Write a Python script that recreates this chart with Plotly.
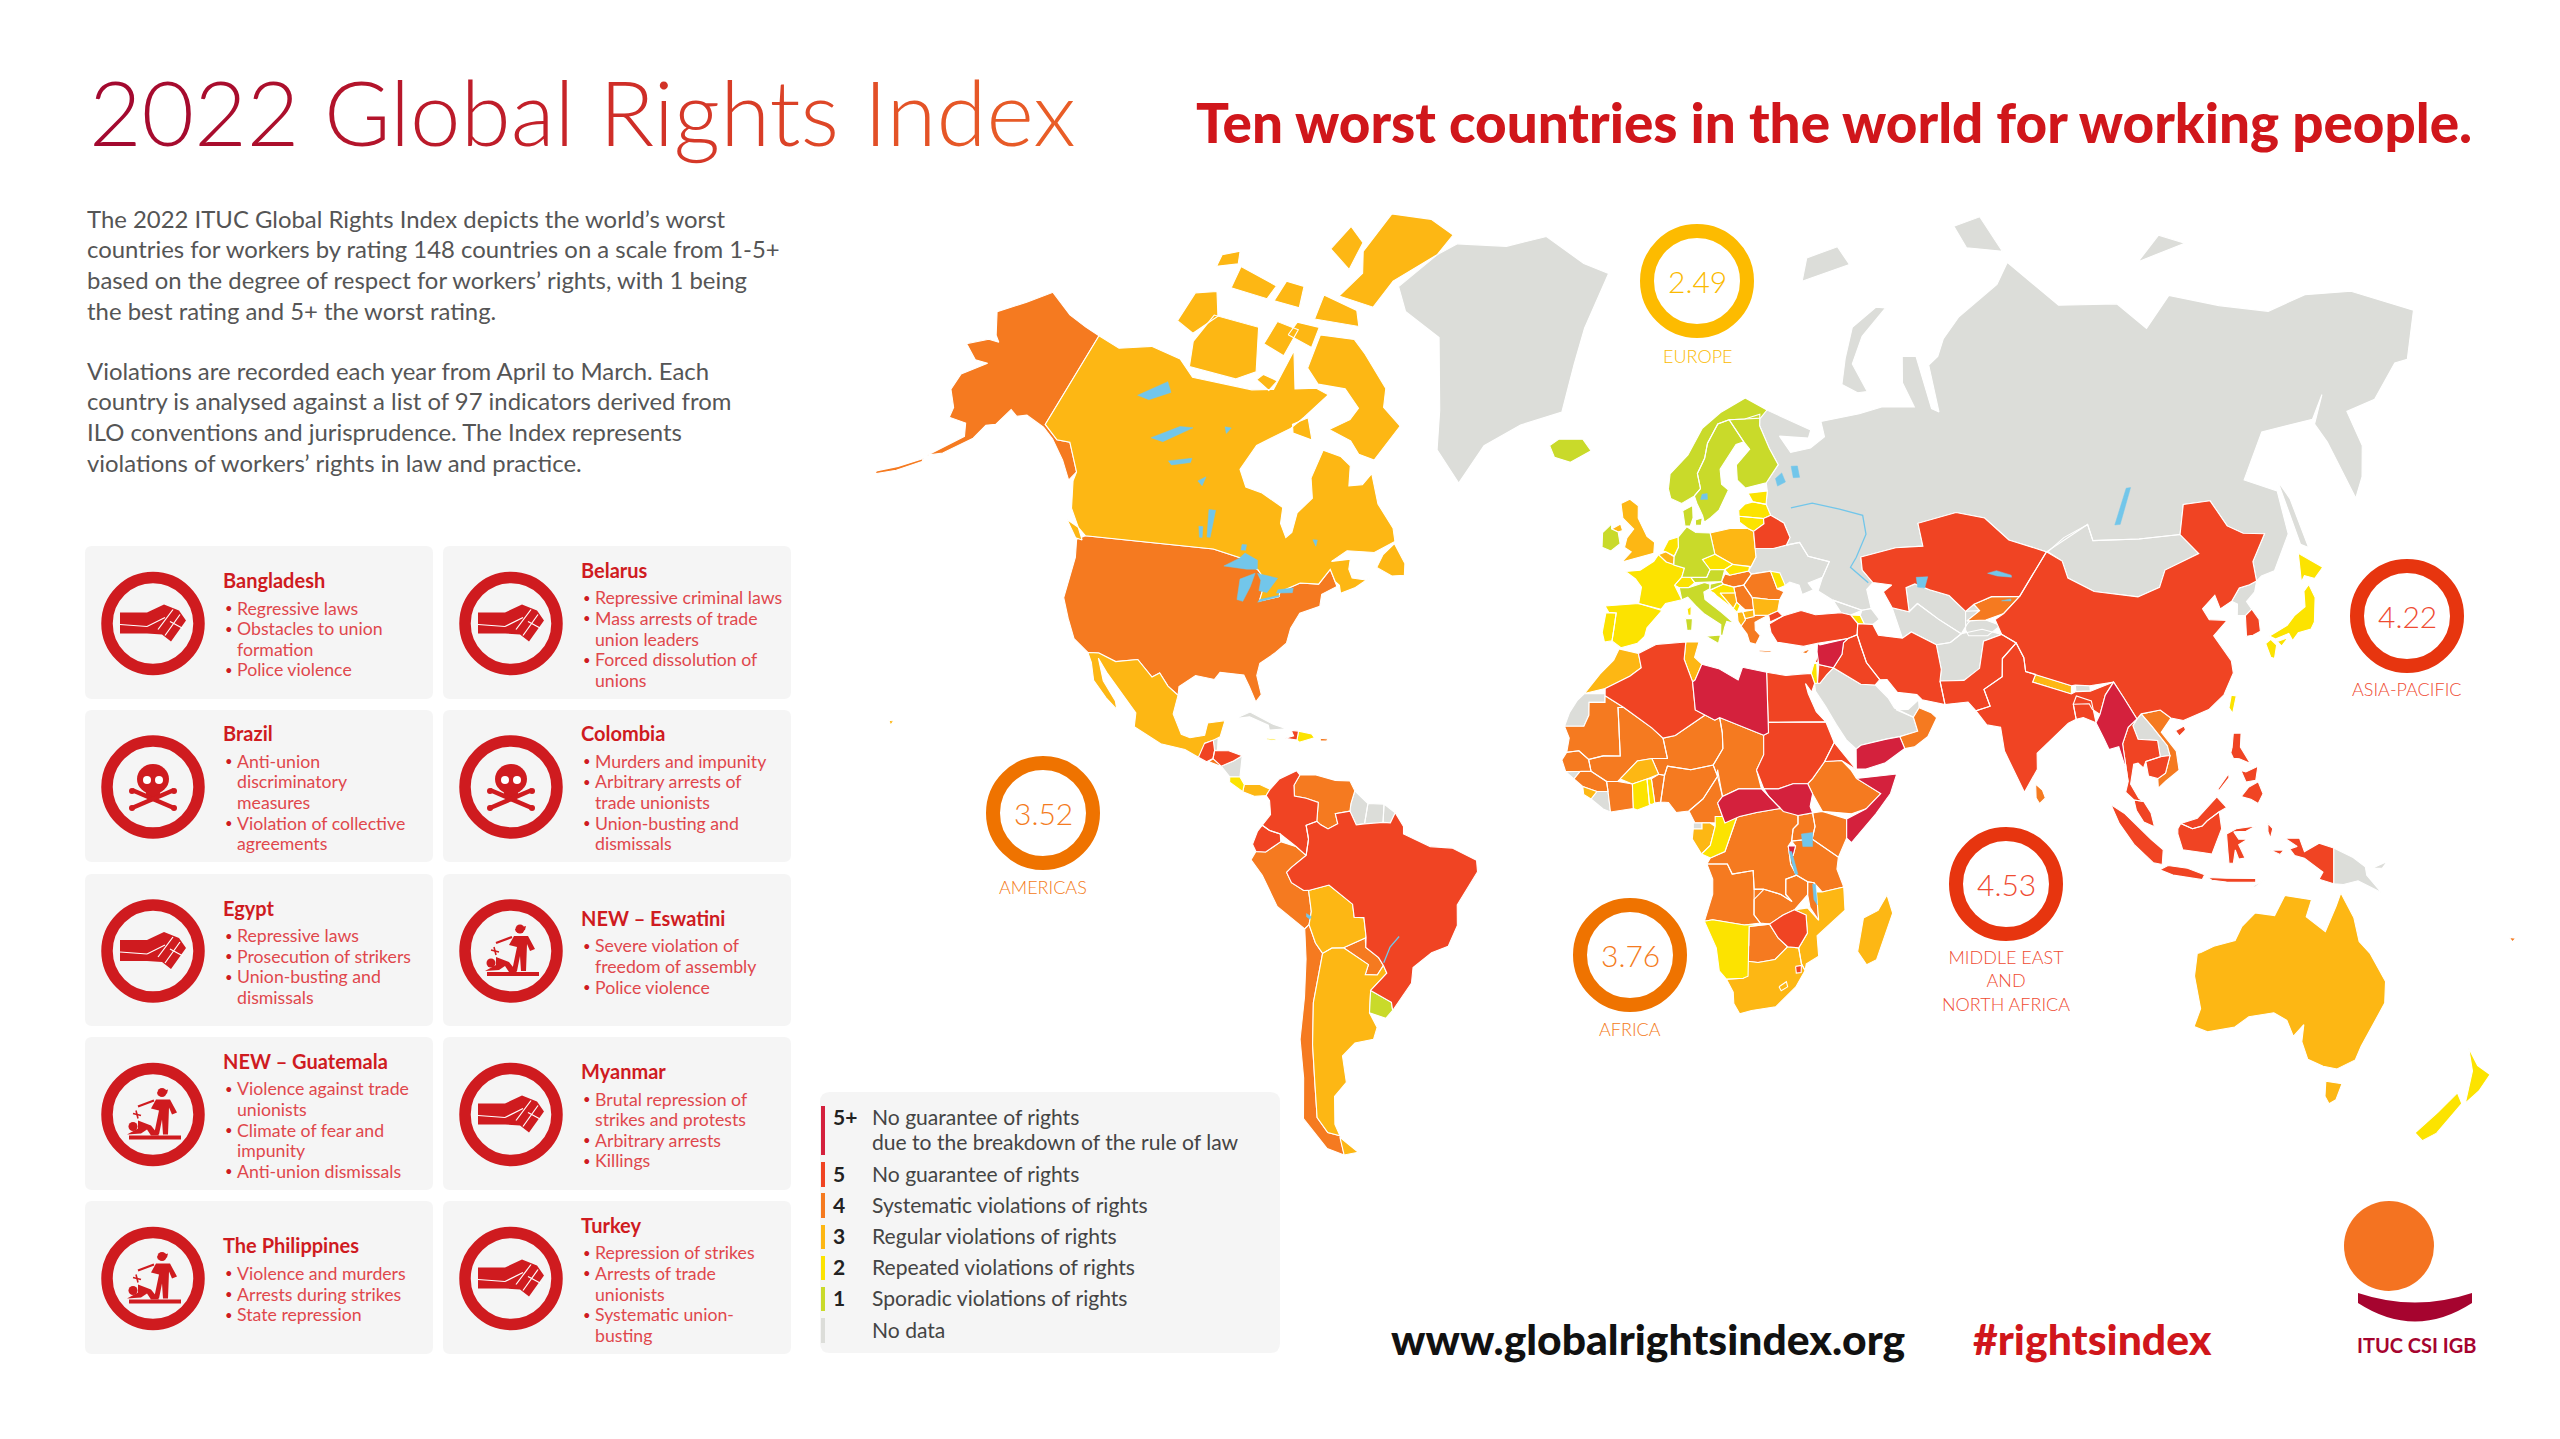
import numpy as np
import plotly.graph_objects as go

# ---- colours of the six ratings and the map extras
C5P, C5, C4, C3, C2, C1, CND = "#D4213D", "#F04423", "#F57A20", "#FDB714", "#FCE300", "#C9DA2A", "#DCDDD9"
LAKE = "#72C6EA"
RED = "#CF1B1F"

# ---- country outlines, (lon, lat)
alaska = [(-141,69.6),(-145,70),(-150,70.4),(-156.5,71.3),(-161,70.3),(-166,68.9),(-163,67),(-161.5,66.5),(-164,66.5),(-168,65.6),(-164,64.5),(-161,64.5),(-165,63),(-165,61.5),(-162,60),(-162,59),(-158,58.8),(-157,57.5),(-163,55),(-160,55.5),(-155,57.5),(-153.5,59),(-151.5,59.3),(-150,61),(-148,60.5),(-146,60.8),(-141,60),(-138,59),(-134,57),(-131,55),(-130,56),(-134,59),(-137,59),(-141,60.3)]
aleutians = [(-163.5,54.6),(-168,53.4),(-172,52.6),(-172,52.3),(-168,53),(-163.5,54.3)]
hawaii = [(-156,19.8),(-155,19.7),(-155.6,19)]
canada = [(-141,69.6),(-135,69),(-128,70),(-120,69.5),(-115,68),(-108,68),(-100,68),(-95,68.5),(-94,72),(-90,69),(-85,69.5),(-81.5,69),(-85,66),(-87,64.5),(-93,62),(-94.5,59),(-92,57),(-88,56.5),(-82.5,55),(-82,53),(-80,51.3),(-79,52),(-79,54.5),(-76.5,56.5),(-78,59),(-77.5,62.5),(-73,62),(-70,61),(-69,58.5),(-66,58.8),(-64.5,60.3),(-61.5,56.5),(-57,53.5),(-56,51.8),(-60,50.2),(-66,50.2),(-69,48.5),(-65,49),(-65,47.5),(-64,46.2),(-61,46),(-60,46.5),(-63,44.8),(-66,43.8),(-66.5,45),(-67.5,45.5),(-69,47.3),(-71,45),(-75,45),(-79,43.5),(-79,42.8),(-83,42),(-82.5,45),(-84.5,46.5),(-88.5,48),(-95,49),(-123,49),(-125,50),(-128,52),(-130,55),(-130,56),(-134,59),(-137,59),(-141,60.3)]
baffin = [(-61.5,66.5),(-65,62),(-69,62.5),(-72,64),(-78,65),(-74,66.5),(-73,68),(-78,70),(-85,70),(-89,71),(-89,73.5),(-80,73.7),(-76,72.8),(-68,70.5),(-67,68.5)]
ellesmere = [(-88,76.5),(-78,76.3),(-75,78.5),(-65,81),(-62,82.5),(-70,83.1),(-82,82.7),(-86,80),(-84,78.5)]
axel_heiberg = [(-95,79.5),(-88,78.5),(-87,80.5),(-92,81.2)]
devon = [(-92,74.5),(-80,74.7),(-82,75.8),(-92,76.3)]
victoria_isl = [(-117,69),(-105,68.8),(-101,70),(-105,73),(-117,73),(-119,71)]
banks = [(-125,72),(-120,71.5),(-116,73),(-119,74.5),(-124,74)]
melville = [(-116,75),(-106,75),(-105,76),(-116,76.5)]
prince_patrick = [(-122,76),(-117,76.6),(-118,77.4),(-122,76.8)]
bathurst = [(-104,75),(-97,75),(-98,76.5),(-103,76.5)]
prince_of_wales = [(-102,72),(-96,71.5),(-95,73.5),(-101,73.7)]
somerset = [(-97,73),(-90,72.5),(-90,74),(-96,74)]
king_william = [(-100,69.2),(-96,68.3),(-95,69.5),(-99,69.9)]
southampton = [(-86,64),(-81,63.5),(-84,66),(-87,65)]
newfoundland = [(-59,48),(-55.5,46.8),(-52.8,47),(-53,48.8),(-56,51.5),(-58,50)]
vancouver = [(-128,50.7),(-125,48.6),(-123.5,48.4),(-125,50)]
usa = [(-123,49),(-95,49),(-88.5,48),(-84.5,46.5),(-82.5,45),(-83,42),(-79,42.8),(-79,43.5),(-75,45),(-71,45),(-69,47.3),(-67.5,45.5),(-67,44.8),(-70,43.5),(-70,41.7),(-74,40.5),(-75.5,38),(-76,35.5),(-78,33.9),(-81,32),(-81.3,30),(-80,26.5),(-81,25.1),(-82.7,28),(-84,30),(-89,30.3),(-90,29),(-94,29.6),(-97.2,27.5),(-97.2,25.9),(-99.5,27.5),(-101.5,29.8),(-103,29),(-106.5,31.8),(-111,31.3),(-114.8,32.5),(-117.1,32.5),(-120.5,34.5),(-122.5,37.5),(-124.3,40.5),(-124,46),(-124.7,48.4)]
mexico = [(-117.1,32.5),(-114.8,32.5),(-111,31.3),(-106.5,31.8),(-103,29),(-101.5,29.8),(-99.5,27.5),(-97.2,25.9),(-97.8,22.5),(-95.8,18.8),(-94,18.2),(-91,18.7),(-90.5,21),(-87,21.5),(-87.8,18.5),(-89,17.9),(-91,17.2),(-90.5,16),(-92.2,14.6),(-95,16),(-100,17),(-105.5,20),(-105.5,22.5),(-109,26),(-112.5,29.5),(-114.7,31.7),(-113,28),(-110,24.5),(-109.5,23),(-112,25),(-115,28),(-116,31)]
guatemala = [(-92.2,14.6),(-91,17.2),(-89.2,17.8),(-88.9,15.9),(-89.2,14.4),(-90.5,13.8)]
belize = [(-89.2,17.9),(-88.2,18.4),(-88.3,16),(-89,15.9)]
honduras = [(-89.2,14.4),(-88.9,15.9),(-86,15.9),(-83.2,15),(-85,14),(-87.5,13)]
el_salvador = [(-90,13.8),(-89.2,14.4),(-87.5,13.2),(-88,13.1)]
nicaragua = [(-87.5,13),(-85,14),(-83.2,15),(-83.6,11),(-85.7,11)]
costa_rica = [(-85.7,11),(-83.6,11),(-82.7,9.6),(-83,8.2),(-85.7,10)]
panama = [(-83,8.2),(-82.7,9.6),(-79.5,9.6),(-77.4,8.7),(-78.2,7.5),(-80.5,7.3)]
cuba = [(-85,21.9),(-82,23.2),(-77,21),(-74.2,20.2),(-77.7,19.9),(-78,20.8),(-82,22.3)]
jamaica = [(-78.3,18.4),(-76.3,18.2),(-76.3,17.9),(-78.3,18.1)]
haiti = [(-74.4,18.4),(-72,18.1),(-71.7,19.8),(-73.2,19.9),(-72.7,18.9)]
dominican = [(-71.7,19.8),(-69,19.3),(-68.4,18.6),(-71.5,17.7),(-72,18.1)]
puerto_rico = [(-67.2,18.5),(-65.6,18.4),(-65.9,18),(-67.2,18)]
colombia = [(-77.4,8.7),(-75.5,10.7),(-72,12.3),(-71.3,11.5),(-72.5,9.5),(-72.4,7.4),(-70,7),(-67.5,6.2),(-67.8,2.5),(-70,1.7),(-69.5,-1),(-70,-4.2),(-72,-2.5),(-75.3,0),(-77.5,0.7),(-79,1.7),(-77.3,3.8),(-77.5,6.5),(-78.2,7.5)]
venezuela = [(-71.3,11.5),(-68,11.5),(-64,10.5),(-61,10.4),(-60,8.5),(-60.8,6),(-61,4.5),(-64,4),(-63.5,2),(-65.5,1),(-67,1.8),(-67.8,2.5),(-67.5,6.2),(-70,7),(-72.4,7.4),(-72.5,9.5)]
guyana = [(-60,8.5),(-57.3,6),(-58,2),(-59.7,1.8),(-61,4.5),(-60.8,6)]
suriname = [(-57.3,6),(-54,5.9),(-54.2,2.3),(-56.5,2),(-58,2)]
guiana = [(-54,5.9),(-51.7,4.2),(-52.7,2.2),(-54.2,2.3)]
ecuador = [(-79,1.7),(-77.5,0.7),(-75.3,0),(-75.2,-1.5),(-78.3,-3.5),(-80.3,-3.4),(-81,-2),(-80,0.5)]
peru = [(-80.3,-3.4),(-78.3,-3.5),(-75.2,-1.5),(-72,-2.5),(-70,-4.2),(-73,-6.5),(-74,-7.5),(-73,-9.5),(-70.5,-11),(-69.5,-11),(-69,-15),(-69.5,-17.5),(-70.4,-18.3),(-76,-14),(-79,-8),(-81.3,-5)]
brazil = [(-51.7,4.2),(-50,1.5),(-50,0),(-44.5,-2.5),(-40,-2.8),(-35,-5.2),(-34.8,-7.5),(-37,-11),(-39,-14),(-39,-18),(-41,-22),(-44.5,-23.2),(-48.5,-26),(-49,-29),(-53.4,-33.7),(-53.5,-32.3),(-57.6,-30.2),(-54,-27),(-54.6,-25.5),(-55.5,-24),(-58,-22),(-57.8,-20),(-58.2,-16.3),(-60.2,-16.2),(-60.5,-13.7),(-65.3,-10),(-69.5,-11),(-70.5,-11),(-73,-9.5),(-74,-7.5),(-73,-6.5),(-70,-4.2),(-69.5,-1),(-70,1.7),(-67.8,2.5),(-67,1.8),(-65.5,1),(-63.5,2),(-64,4),(-61,4.5),(-59.7,1.8),(-58,2),(-54.2,2.3),(-52.7,2.2)]
bolivia = [(-69.5,-11),(-65.3,-10),(-60.5,-13.7),(-60.2,-16.2),(-58.2,-16.3),(-57.8,-20),(-58,-20.2),(-62.6,-22),(-65,-22),(-67,-23),(-68.3,-21),(-69.5,-17.5),(-69,-15)]
paraguay = [(-62.6,-22),(-58,-20.2),(-58,-22),(-55.5,-24),(-54.6,-25.5),(-56,-27.3),(-58.5,-27.2),(-57.7,-25.3)]
chile = [(-70.4,-18.3),(-69.5,-17.5),(-68.3,-21),(-67,-23),(-69.8,-32),(-71,-39),(-71.8,-45),(-72.5,-50),(-71,-52),(-68.5,-52.5),(-68.6,-55),(-72,-54),(-75.5,-50),(-74,-44),(-73.5,-38),(-71.5,-31),(-70.5,-24)]
argentina = [(-67,-23),(-65,-22),(-62.6,-22),(-57.7,-25.3),(-58.5,-27.2),(-56,-27.3),(-54.6,-25.5),(-54,-27),(-57.6,-30.2),(-58.3,-34),(-57,-36.5),(-58,-38.5),(-62,-39),(-65,-41),(-65,-45),(-68,-47),(-69,-51),(-68.5,-52.5),(-71,-52),(-72.5,-50),(-71.8,-45),(-71,-39),(-69.8,-32)]
tierra = [(-68.6,-52.7),(-65.3,-54.8),(-68.6,-55)]
uruguay = [(-57.6,-30.2),(-53.5,-32.3),(-53.4,-33.7),(-55,-35),(-58.3,-34)]
greenland = [(-73,78.2),(-69,76.5),(-58,75),(-53,69),(-51,64),(-44,60),(-40,65),(-32,68),(-22,70),(-20,74),(-18,77),(-12,81.4),(-20,82),(-33,83.6),(-45,82.5),(-60,82),(-65,81)]
iceland = [(-24,65.5),(-22,66.4),(-16,66.5),(-13.7,65),(-18.5,63.4),(-22.5,64)]
uk = [(-5.5,50),(1.5,51.2),(1.7,52.7),(0,53.5),(-2,56),(-2,57.7),(-4,58.6),(-6,58),(-5.5,56),(-3,54.5),(-4.5,53.3),(-5,52),(-3.5,51.4)]
n_ireland = [(-8,54.5),(-6,55.2),(-5.5,54.3),(-6.5,54.1)]
ireland = [(-10,52),(-10,54),(-8,55.2),(-8,54.5),(-6.5,54.1),(-6,52.5),(-8,51.5)]
france = [(-4.7,48.5),(-1.5,48.7),(1.5,50.1),(2.5,51),(4.2,50),(8.2,49),(7.6,47.6),(6,46.3),(7.5,44),(4,43.4),(3,42.5),(-1.8,43.4),(-1.2,46),(-2.5,47.3)]
corsica = [(8.6,42.5),(9.5,43),(9.4,41.5),(8.8,41.5)]
spain = [(-9,43),(-1.8,43.4),(3.2,42.3),(0,39.5),(-0.5,38),(-2,36.8),(-5.5,36),(-7.4,37.2),(-7,39.5),(-6.6,41.9),(-8.2,42)]
portugal = [(-8.8,41.9),(-6.6,41.9),(-7,39.5),(-7.4,37.2),(-9,37),(-9.5,38.7)]
belgium = [(2.5,51),(4.2,51.4),(6,50.7),(5.8,49.5),(4.2,50)]
netherlands = [(4.2,51.4),(3.5,51.5),(4.8,53),(7,53.4),(7,52),(6,50.8)]
germany = [(6,50.7),(7,52),(7,53.4),(9,54.8),(11,54),(14.2,53.9),(15,51),(12.2,50.3),(13.8,48.7),(13,47.5),(7.6,47.6),(8.2,49),(5.9,49.5)]
switzerland = [(6,46.3),(7.6,47.6),(9.6,47.5),(10.4,46.7),(9,45.9),(7,45.9)]
austria = [(9.6,47.5),(13,47.5),(13.8,48.7),(17,48.7),(16.2,46.8),(12.5,46.7),(10.4,46.7)]
italy = [(7.5,44),(7,45.9),(9,45.9),(12.5,46.7),(13.7,46.4),(13.6,45.7),(12.3,45.2),(12.5,44),(16,41.9),(18.5,40.2),(17,40.5),(16.5,39.5),(16,38),(15.6,38.2),(15.7,40),(12.3,41.7),(10.5,43),(8.8,44.4)]
sicily = [(12.5,38),(15.6,38.2),(15.1,36.7)]
sardinia = [(8.2,41),(9.7,41),(9.5,39.1),(8.5,39)]
denmark = [(8.2,57),(10.5,57.7),(10.5,56),(9.8,54.9),(8.6,54.9)]
zealand = [(11,55.7),(12.6,56),(12.3,55),(11,55)]
norway = [(5,60),(5.5,62),(10,64.5),(14,68),(19,70),(25.8,71.1),(31,70),(29,69),(25,69),(21,69),(18,68.5),(15,66),(14,64),(12,62),(12.5,60),(11,59),(8,58),(5.5,58.7)]
sweden = [(11,59),(12.5,60),(12,62),(14,64),(15,66),(18,68.5),(21,69),(24,66),(22,65.7),(17.5,62.5),(17.5,60.5),(19,59.7),(16.5,57),(14.5,56),(13,55.4),(12.7,56.3),(11.5,58)]
finland = [(21,69),(25,69),(29,69.5),(28.5,68),(30,65),(31.5,62.8),(28,60.5),(23,59.9),(21.3,61),(21.5,63),(25.2,65),(24,66)]
estonia = [(23.5,59.2),(28,59.4),(27.4,57.6),(24.4,58)]
latvia = [(21,56.9),(22.5,57.7),(24.4,58),(27.4,57.6),(28.2,56.1),(26.5,55.7),(21,56.1)]
lithuania = [(21,56.1),(26.5,55.7),(26.5,55),(24,54),(22.8,54.4),(21,55.3)]
poland = [(14.2,53.9),(19,54.5),(22.8,54.4),(24,54),(24,50.5),(22.8,49.1),(19,49.4),(15,51)]
belarus = [(24,54),(26.5,55),(26.5,55.7),(28.2,56.1),(31,55),(32,53),(31,52),(28,51.6),(24,51.7)]
czechia = [(12.2,50.3),(15,51),(18.8,49.5),(17,48.7),(13.8,48.7)]
slovakia = [(17,48.7),(18.8,49.5),(22.5,49.1),(22.2,48.4),(18,47.8)]
hungary = [(16.2,46.8),(17,48),(18,47.8),(22.2,48.4),(22.8,47.9),(21,46.2),(18.8,45.9),(16.5,46.4)]
ukraine = [(24,51.7),(24,50.5),(22.8,49.1),(22.2,48.4),(22.8,47.9),(27,48.3),(30,46),(31,46.5),(33,46),(33.5,44.5),(36,45.2),(35,46.3),(38.2,47.1),(40,49.5),(35.5,50.4),(34,52.3),(31,52),(28,51.6)]
moldova = [(27,48.3),(29,48),(30,46),(28.2,45.5)]
romania = [(22.8,47.9),(27,48.3),(28.2,45.5),(29.6,45),(28.6,43.8),(26,43.9),(22.7,44.2),(21,46.2)]
bulgaria = [(22.7,44.2),(26,43.9),(28.6,43.8),(28,42),(26,41.4),(22.9,41.4)]
serbia = [(18.8,45.9),(21,46.2),(22.7,44.2),(22.9,42.3),(21,42.3),(19.3,43.5),(19,45)]
croatia = [(13.6,45.4),(16.5,46.4),(18.8,45.9),(19,45),(15.8,45),(18.5,42.5),(15,44.6),(14.5,45)]
bosnia = [(15.8,45),(19,45),(19.3,43.5),(18.5,42.5)]
montenegro = [(18.5,42.5),(19.3,43.5),(20,43),(19.3,41.9)]
albania = [(19.3,41.9),(20.5,42),(21,40.7),(20,39.7),(19.4,40.5)]
macedonia = [(20.5,42),(22.9,42.3),(22.9,41.2),(21,40.9)]
greece = [(20,39.7),(21,40.9),(22.9,41.4),(26,41.4),(24,40.7),(23,40.3),(23,39),(24,38),(23,36.5),(21.7,36.8),(21.2,38.3)]
crete = [(23.6,35.5),(26.3,35.3),(26,35),(23.6,35.2)]
cyprus = [(32.5,35),(34.5,35.6),(33.5,34.7)]
slovenia = [(13.6,45.5),(13.7,46.4),(16.2,46.8),(16.5,46.4)]
russia = [(28,59.4),(28,60.5),(31.5,62.8),(30,65),(28.5,68),(29,69.5),(31,70),(41,67),(40,66),(33,66.5),(35,64.3),(40,64.7),(44,66),(44,68),(54,68.5),(60,69),(68,68.5),(67,71),(69,73),(72.5,72.8),(72,68),(73.5,67.5),(75,72),(78,72.5),(81,73.7),(87,75),(100,76.5),(105,77.7),(113,74),(127,73),(131,71),(140,72.5),(150,71),(160,69.7),(170,70),(180,69),(190,66),(182,62.5),(179,62.5),(170,60),(163,59.5),(163,56),(160,53),(156.7,51),(156,57),(155,59),(160,61.5),(155,59.5),(143,59.3),(135,54.7),(141,53),(140,48),(135,43.5),(132,43),(130.7,42.4),(131,45),(135,48.4),(130.5,48.8),(127.5,50),(126,53),(120,53),(117,49.6),(108,49.6),(98,50),(98,52),(87.5,49),(80,51),(76,54),(70,55),(61,54),(61,51),(55,51),(47,50),(47,48),(49,46),(47.5,45),(48,42),(46,41.8),(40,43.5),(37,45),(38.2,47.1),(40,49.5),(35.5,50.4),(34,52.3),(31,52),(32,53),(31,55),(28.2,56.1),(27.4,57.6)]
sakhalin = [(142,54),(143,52),(143.5,46),(142,46.5)]
novaya = [(51.5,71.5),(55,70.7),(57.5,70.7),(55.5,73),(60,75),(68.5,76.8),(66,77),(58,75.8),(54,73.5)]
franz_josef = [(47,80),(62,80.5),(60,81.8),(50,81.5)]
severnaya = [(96,79.5),(105,78.5),(103,81),(95,81)]
siberian_isl = [(137,75),(150,75),(145,76)]
kazakhstan = [(47,50),(55,51),(61,51),(61,54),(70,55),(76,54),(80,51),(87.5,49),(85,47),(82.5,45),(80,42.8),(74,43),(70,42),(68,41),(65,43.5),(61,44.5),(58,45.5),(56,45),(56,41.3),(52.5,42),(51,44.5),(53,45.5),(49,46),(47,48)]
uzbekistan = [(56,45),(58,45.5),(61,44.5),(65,43.5),(68,41),(70,42),(71,41),(68,39),(66.5,37.4),(62,40),(58,42.5),(56,41.3)]
turkmenistan = [(52.5,42),(56,41.3),(58,42.5),(62,40),(66.5,37.4),(64,36),(61,35.7),(56,38),(54,37),(53,40)]
kyrgyzstan = [(70,42),(74,43),(80,42.8),(76,40.4),(72,39.5),(68,39.5),(71,41)]
tajikistan = [(68,41),(71,41),(68,39.5),(72,39.5),(75,38.5),(72,36.9),(68,37),(67.5,38)]
afghanistan = [(61,35.7),(64,36),(66.5,37.4),(71,38),(75,37),(71,36),(69.5,31.5),(66,29.5),(61,29.5),(61.5,31.5)]
pakistan = [(61,29.5),(66,29.5),(69.5,31.5),(71,36),(75,37),(77.8,35.5),(74.5,33),(74,30),(70,27.7),(71,24.5),(68,23.7),(66.5,25.4),(61.7,25)]
iran = [(44.8,39.7),(48,39.5),(49,37.6),(54,37),(56,38),(61,35.7),(61.5,31.5),(61,29.5),(61.7,25),(57,26),(56,27),(52,27.5),(50,30),(48.5,30),(46,33),(45,36),(44.5,37.8)]
iraq = [(42.5,37.2),(44.5,37.8),(45,36),(46,33),(48.5,30),(47.5,29),(44.5,29.2),(39,32.2),(41,34.5),(41.5,36.5)]
syria = [(36,36.5),(36.5,36.2),(42.5,37.2),(41.5,36.5),(41,34.5),(39,32.2),(36,32.8),(35.8,35)]
jordan = [(35.5,29.5),(36,32.8),(39,32.2),(37.5,31),(36,29.5)]
israel = [(34.3,31.3),(35,33),(35.6,33),(35.5,29.5),(34.9,29.5)]
lebanon = [(35.2,33.1),(36,34.5),(36.5,34.5),(35.8,33.2)]
turkey = [(26,40),(26.3,38.5),(27.5,36.8),(30.5,36.3),(33,36),(36,36.5),(42.5,37.2),(44.5,37.8),(44.8,39.7),(43.5,41.1),(41.5,41.5),(36,41.3),(33,42),(29,41.2)]
thrace = [(26,41.4),(28,42),(29,41.2),(26.2,40.3)]
georgia = [(40,43.5),(46,41.8),(43.5,41.1),(41.5,41.5)]
armenia = [(43.5,41.1),(45.5,41),(46.5,39),(44.8,39.7)]
azerbaijan = [(45.5,41),(46,41.8),(48,42),(49.5,40.3),(48,39.5),(46.5,39)]
saudi = [(34.9,29.5),(36,29.5),(37.5,31),(39,32.2),(44.5,29.2),(47.5,29),(48.5,28),(50,26.5),(51.2,24.5),(55,22.7),(55.7,20),(52,19),(49,18.5),(44,17.4),(43,16.7),(41,18.5),(39,21.5),(37,25),(35,28)]
uae = [(51.5,24.2),(54,24.2),(56.3,26),(56.3,24.5),(55,22.7)]
oman = [(56.3,24.5),(58.7,23.5),(59.8,22.5),(57.8,19),(55,17),(53,16.7),(52,19),(55.7,20),(55,22.7)]
yemen = [(43,12.8),(43,16.7),(44,17.4),(49,18.5),(52,19),(53,16.7),(49,14),(45,12.8)]
egypt = [(25,31.6),(29,31),(32,31.2),(34.3,31.3),(34.9,29.5),(34.2,27.8),(33,29.5),(33.5,27.5),(35,24),(36.9,22),(25,22)]
libya = [(11.5,33.1),(15,32.3),(19,30.3),(20,32.5),(25,31.6),(25,20),(24,19.5),(15,23),(14,22.5),(10,24.5),(9.5,30),(10,30.3)]
tunisia = [(8.2,37),(11,37),(10,34.3),(11.5,33.1),(10,30.3),(9.5,30),(7.8,34)]
algeria = [(-1.8,35),(2,36.6),(8.2,37),(7.8,34),(9.5,30),(10,24.5),(12,23.5),(5.8,19.5),(3.3,19),(1,21),(-4.8,25),(-8.7,27.3),(-8.7,28.7),(-3.6,31),(-1.2,32.5)]
morocco = [(-5.9,35.8),(-1.8,35),(-1.2,32.5),(-3.6,31),(-8.7,28.7),(-13,27.7),(-9.8,31.4),(-7,33.8)]
w_sahara = [(-13,27.7),(-8.7,27.7),(-8.7,26),(-12,26),(-12,23.5),(-13,21.3),(-17,21.3),(-16,24),(-14.5,26.3)]
mauritania = [(-8.7,27.3),(-4.8,25),(-6,25),(-5.5,15.5),(-9,15.5),(-12,14.8),(-14,16.5),(-16.5,16.2),(-16,19),(-17,21.3),(-13,21.3),(-12,23.5),(-12,26),(-8.7,26)]
mali = [(-4.8,25),(1,21),(3.3,19),(4.2,15),(1,15),(-2,14.5),(-4.5,12),(-6,10.5),(-8.3,10.5),(-11.5,12.5),(-12,14.8),(-9,15.5),(-5.5,15.5),(-6,25)]
senegal = [(-16.5,16.2),(-14,16.5),(-12,14.8),(-11.5,12.5),(-16.7,12.4),(-17.5,14.7)]
guinea_bissau = [(-16.7,12.4),(-13.7,12.5),(-15,11)]
guinea = [(-13.7,12.5),(-11.5,12.5),(-8.3,10.5),(-8,8.5),(-10.3,8.5),(-13.2,9.5),(-15,11)]
sierra_leone = [(-13.2,9.5),(-10.3,8.5),(-11.5,7),(-13,7.9)]
liberia = [(-11.5,7),(-10.3,8.5),(-8,8.5),(-7.5,4.4),(-9,5)]
ivory_coast = [(-8,8.5),(-8.3,10.5),(-6,10.5),(-3,10),(-2.8,5.1),(-7.5,4.4)]
burkina = [(-5.5,11),(-4.5,12),(-2,14.5),(1,15),(2.4,11.9),(0,11),(-3,10)]
ghana = [(-3,10),(0,11),(0.5,6),(1,5.9),(-2,4.8),(-2.8,5.1)]
togo = [(0,11),(0.9,11),(1.6,6.2),(1,5.9),(0.5,6)]
benin = [(0.9,11),(2.4,11.9),(3.6,11.7),(2.8,6.4),(1.6,6.2)]
nigeria = [(2.8,6.4),(3.6,11.7),(4.2,13.5),(9,12.8),(13.6,13.7),(14.5,11.5),(11.5,7),(8.6,4.6),(6,4.3),(4.4,6.3)]
niger = [(1,15),(4.2,15),(3.3,19),(5.8,19.5),(12,23.5),(14,22.5),(15,23),(15.5,20),(15.6,16.9),(13.6,13.7),(9,12.8),(4.2,13.5),(3.6,11.7),(2.4,11.9)]
chad = [(15,23),(24,19.5),(24,15.7),(22.5,12.7),(23.5,9),(18.8,9),(15.5,7.5),(14.5,11.5),(13.6,13.7),(15.6,16.9),(15.5,20)]
sudan = [(24,19.5),(25,20),(25,22),(36.9,22),(38.5,18),(36.5,14.3),(34,11),(33,10),(30,10),(27,9),(24,9),(22.5,12.7),(24,15.7)]
eritrea = [(36.5,14.3),(38.5,18),(43,12.7),(40,14.5)]
south_sudan = [(24,9),(27,9),(30,10),(33,10),(34,8),(33.5,5.5),(34,4.2),(31,3.7),(28,4.5),(25,7.5)]
car = [(14.5,6.2),(15.5,7.5),(18.8,9),(23.5,9),(25,7.5),(27.4,5.1),(22.5,4.3),(19,3.5),(16,2.2)]
ethiopia = [(36.5,14.3),(40,14.5),(42,12.5),(43,11),(48,8),(45,5),(42,4),(36,4.5),(34,8),(33,10),(34,11)]
somalia = [(43,11),(51.3,11.8),(50,8),(47,4),(42,-1.7),(41,-0.8),(41,3),(45,5),(48,8)]
kenya = [(34,4.2),(36,4.5),(41,3),(41,-0.8),(39.3,-4.6),(33.9,-1),(34.5,1.5)]
uganda = [(31,3.7),(34,4.2),(34.5,1.5),(33.9,-1),(29.7,-1.4),(30,1),(31,2)]
burundi = [(29,-2.4),(30.5,-2.4),(30,-4.3),(29.3,-4.4)]
drc = [(12.3,-6),(13,-4.8),(16,-3.5),(18.5,3.5),(19,3.5),(22.5,4.3),(27.4,5.1),(31,3.7),(31,2),(30,1),(29.7,-1.4),(29,-2.4),(29.3,-4.4),(29.5,-6),(30.7,-8.2),(28.5,-9),(28.5,-12),(29.8,-13.4),(27.5,-12),(24,-11),(22,-11),(21.8,-7.3),(17.5,-8),(16.5,-6)]
congo = [(11.2,-4),(13,-2.3),(14,1.5),(14,3.5),(18,3.5),(18.5,3.5),(16,-3.5),(13,-4.8)]
gabon = [(9.5,1),(9.3,-1),(11.2,-4),(13,-2.3),(14,1.5),(13,2.2),(11.3,2.2),(11.3,1)]
eq_guinea = [(9.5,2.2),(11.3,2.2),(11.3,1),(9.5,1)]
cameroon = [(8.6,4.6),(11.5,7),(14.5,11.5),(14.5,12.8),(15.5,7.5),(14.5,6.2),(16,2.2),(14,2.2),(9.8,2.3)]
angola = [(12.3,-6),(16.5,-6),(17.5,-8),(21.8,-7.3),(22,-11),(24,-11),(22,-13),(22,-16),(23.3,-17.6),(20,-18),(13.5,-17),(11.8,-17.3),(13.5,-12),(13.5,-9)]
namibia = [(11.8,-17.3),(13.5,-17),(20,-18),(25.2,-17.8),(21,-18.3),(21,-28),(20,-28.4),(16.5,-28.6),(15,-27),(14.3,-22.5)]
zambia = [(22,-11),(24,-11),(27.5,-12),(29.8,-13.4),(28.5,-12),(28.5,-9),(30.7,-8.2),(33,-9.5),(33,-12),(30.3,-15),(28,-16),(25.2,-17.8),(23.3,-17.6),(22,-16),(22,-13)]
malawi = [(33,-9.5),(34.3,-9.7),(35,-13),(35.3,-17),(33.5,-14.5),(33,-12)]
tanzania = [(29.3,-4.4),(30,-4.3),(30.5,-2.4),(29.7,-1.4),(33.9,-1),(39.3,-4.6),(39,-7),(40.4,-10.5),(36,-11.5),(34.3,-9.7),(33,-9.5),(30.7,-8.2),(29.5,-6)]
mozambique = [(40.4,-10.5),(40.7,-15),(35,-20),(35.5,-24),(33,-25.5),(32.8,-26.8),(32,-25.5),(31.3,-22.4),(33,-19.5),(32.7,-16),(30.3,-15),(33,-14.6),(35.3,-17),(35,-13),(34.8,-11.5),(36,-11.5)]
zimbabwe = [(25.2,-17.8),(28,-16),(30.3,-15),(32.7,-16),(33,-19.5),(31.3,-22.4),(29,-22.2),(27,-20.5)]
botswana = [(21,-18.3),(25.2,-17.8),(27,-20.5),(29,-22.2),(26.5,-24.7),(23,-25.3),(20,-25),(21,-22)]
south_africa = [(16.5,-28.6),(20,-28.4),(20,-25),(23,-25.3),(26.5,-24.7),(29,-22.2),(31.3,-22.4),(32,-25.5),(32.8,-26.8),(31,-30),(27,-33.5),(22,-34.2),(19.5,-34.8),(18.2,-33),(18,-31)]
eswatini = [(30.8,-26),(32,-25.8),(32,-27.2),(31,-27.3)]
lesotho = [(27.5,-30),(29,-29),(29.3,-30),(28,-30.7)]
madagascar = [(49.3,-12),(50.5,-15.5),(47.5,-24.5),(45.5,-25.5),(43.5,-23),(44.5,-16.5),(47.5,-15)]
india = [(68,23.7),(71,24.5),(70,27.7),(74,30),(74.5,33),(77.8,35.5),(79,33),(79,30.7),(81,30.2),(80.2,28.8),(88,26.4),(89,26.8),(92,26.8),(97,28.3),(95,26),(93.5,22.5),(92,23.5),(91.5,24.5),(88.2,24.5),(88.5,21.7),(86.8,21),(80.2,15.5),(80.2,12.5),(77.5,8.1),(73.5,16),(72.8,20.5),(70,21)]
nepal = [(80.2,28.8),(81,30.2),(88.2,27.9),(88,26.4)]
bhutan = [(89,26.8),(89,28),(92,27.8),(92,26.8)]
bangladesh = [(88.2,24.5),(89,26),(92,25),(92.5,21),(90,22),(88.5,21.7)]
myanmar = [(92.5,21),(93.5,22.5),(95,26),(97,28.3),(98.7,25.5),(101,21.5),(99,20),(97.8,17),(98.8,10),(98.5,12),(97,16.5),(95,16),(94,18)]
thailand = [(101,21.5),(100,20.3),(101,17.8),(105,17.5),(105.5,14.5),(102.5,13.7),(102,12.5),(100.9,13.4),(100,13.2),(99.3,9.5),(101,6.8),(102,6.2),(100,6.5),(98.3,8),(98.8,10),(97.8,17),(99,20)]
laos = [(101,21.5),(102,22.4),(104,20),(107,16.5),(107.5,14.7),(105.5,14.5),(105,17.5),(101,17.8),(100,20.3)]
vietnam = [(102,22.4),(106,23),(108,21.5),(105.8,19),(108.8,15.5),(109.3,12),(106.5,10),(105,8.7),(104.9,10.5),(106.5,11.5),(107.5,14.7),(107,16.5),(104,20)]
cambodia = [(102.5,13.7),(105.5,14.5),(107.5,14.7),(106.5,11.5),(104.9,10.5),(103,11)]
malaya = [(100,6.5),(102,6.2),(103.5,4),(104.2,1.4),(102,2.3),(100.5,4.5)]
sabah = [(109.6,2),(113,3),(117,7),(119,5),(117.5,4.2),(115,2.5),(114,1.5),(112,1)]
kalimantan = [(109,1),(109.6,2),(112,1),(114,1.5),(115,2.5),(117.5,4.2),(118,1),(116,-3.8),(114,-3.5),(110,-3),(109,0)]
sumatra = [(95.3,5.6),(98,4),(103.5,-1),(106,-3),(105.8,-5.8),(104,-5.5),(100,-2),(97,2)]
java = [(105.3,-6.8),(107,-6),(111,-6.5),(114.5,-7.7),(114,-8.6),(108,-7.8)]
sulawesi = [(119.3,-3.5),(119,0),(121,1),(125,1.5),(123,0.5),(120.5,0.4),(121.5,-1),(123.3,-1),(121.5,-2),(122.8,-4.5),(121.5,-4.7),(120.8,-3),(120.4,-5.5),(119.5,-5.5)]
sunda = [(115,-8.2),(119,-8.3),(125,-8.3),(125,-9),(119,-9),(116,-8.7)]
halmahera = [(127.5,2),(128.5,1),(128,-0.8),(127.5,0.5)]
ceram = [(128,-3),(130.8,-3),(130,-3.8)]
papua = [(131,-0.8),(134,-0.8),(135,-3.3),(138,-1.7),(141,-2.6),(141,-9.1),(138,-8.3),(138.8,-7),(135,-4.5),(133,-4),(132,-2.8),(133.5,-2.3)]
png = [(141,-2.6),(145,-4.3),(147.5,-6),(147.8,-7.5),(150.8,-10.5),(146,-8.5),(143,-9.2),(141,-9.1)]
timor = [(124,-9.9),(127,-8.4),(125,-9.8)]
new_britain = [(149,-6.2),(152,-5),(151,-6.2)]
luzon = [(120.3,16),(120.6,18.5),(122.2,18.5),(122,16),(124,13),(121.7,13.9),(120.5,14),(120,15)]
mindanao = [(122,7),(123.5,8.7),(125.5,9.7),(126.5,7.5),(125.5,5.7),(124,6.5)]
visayas = [(122,11.8),(123,11.5),(125.5,12.5),(125,10),(123,9.7)]
palawan = [(117.2,8.4),(119.5,11.3),(119.5,10.5),(117.5,8.2)]
taiwan = [(121,25.2),(122,25),(120.8,22),(120.2,23)]
honshu = [(130.9,34.4),(135,35.8),(137,37.2),(139.5,38.3),(140,40.5),(141.4,41.3),(142,39.5),(140.8,36),(139.8,35),(137,34.6),(135.5,33.5),(135,34.6),(132,33.9)]
hokkaido = [(140,41.7),(141,45.4),(145.3,43.3),(143,42),(141,42.5)]
kyushu = [(129.8,33.3),(131,33.9),(132,33),(131,31),(130.3,31.2)]
shikoku = [(132.3,33.5),(134.7,34),(133,32.8)]
south_korea = [(126.1,34.6),(126.7,37.7),(128.3,38.6),(129.4,37),(129.2,35.2),(127.5,34.7)]
north_korea = [(124.4,40),(126.7,41.7),(129,42),(130.7,42.4),(129.7,41),(127.5,39.8),(128.3,38.6),(126.7,37.7),(125,37.8),(125.5,39.5)]
mongolia = [(87.8,49),(92,50.7),(98,52),(98,50),(108,49.6),(117,49.6),(120,46.8),(112,45),(110,42.7),(105,41.6),(96,42.8),(91,45),(90.5,47.5)]
china = [(74,39.5),(76,40.4),(80,42.8),(82.5,45),(85,47),(87.5,49),(90.5,47.5),(91,45),(96,42.8),(105,41.6),(110,42.7),(112,45),(120,46.8),(117,49.6),(120,53),(126,53),(127.5,50),(130.5,48.8),(135,48.4),(131,45),(130.7,42.4),(129,42),(126.7,41.7),(124.4,40),(121.7,39),(121.2,41),(118,39.2),(119,37.5),(122.7,37.2),(119.3,35),(122,31),(122,29),(119.5,25.3),(116,22.8),(110.5,21),(108,21.5),(106,23),(102,22.4),(101,21.5),(98.7,25.5),(97,28.3),(92,27.8),(89,28),(88.2,27.9),(81,30.2),(79,30.7),(79,33),(77.8,35.5),(75,37)]
hainan = [(108.7,19.2),(110.5,20),(110.8,19.3),(109.5,18.2)]
sri_lanka = [(79.8,9.7),(81.2,8.5),(81.8,7),(80.6,5.9),(79.9,7)]
australia = [(113.5,-22),(114.2,-21.8),(116.7,-20.6),(121,-19.5),(122.3,-17),(125,-14.5),(129,-14.9),(131,-11.3),(136.5,-12),(135.5,-15),(139.5,-17.5),(141.6,-13),(142.5,-10.7),(145.3,-15),(146.5,-19),(149,-21),(153,-25.5),(153.5,-29),(150.5,-35.5),(149.9,-37.5),(146.5,-39),(143.5,-38.8),(140,-38),(138,-35.5),(137.7,-33),(136,-34.8),(134,-32.5),(131,-31.5),(126,-32.3),(123.5,-34),(118,-35),(115,-34.3),(115.7,-31.5),(113.5,-26)]
tasmania = [(144.8,-40.8),(148.3,-40.9),(148,-43),(146.8,-43.6),(145.5,-42.7)]
nz_north = [(172.8,-34.5),(175.5,-36.7),(178.5,-37.7),(177,-40),(175,-41.6),(174.8,-39.5),(174.7,-37.5)]
nz_south = [(172.7,-40.5),(174.3,-41.7),(171,-45.5),(168.5,-46.6),(166.5,-45.8),(170,-43)]
fiji = [(177.3,-17.5),(178.7,-17.6),(178,-18.2)]

# ---- lakes and rivers
superior = [(-92,46.7),(-89,48),(-88,48.8),(-85,47.9),(-84.7,46.6),(-87,46.5)]
michigan = [(-87.8,42),(-88,45),(-85,46),(-85.5,44),(-86.5,41.8)]
huron = [(-84.5,46),(-80,45.5),(-81.7,43.3),(-83.5,43.5),(-83.5,45)]
erie = [(-83.3,41.8),(-79,42.8),(-79,43),(-83,42.2)]
ontario = [(-79.7,43.3),(-76.3,43.5),(-76.3,44.2),(-79.5,43.8)]
great_bear = [(-125,65),(-120,67),(-118,66),(-122,64.8)]
great_slave = [(-117,61),(-112,62.7),(-109,62.8),(-114,60.8)]
athabasca = [(-111,58.8),(-106,59.5),(-106,59),(-110,58.4)]
reindeer = [(-103,57),(-101.5,57.6),(-101.7,56.5)]
dubawnt = [(-102,63.5),(-100.5,63.5),(-101,62.8)]
winnipeg = [(-98.5,53.8),(-97,53.8),(-96.3,50.5),(-97,50.5)]
manitoba = [(-99.5,51.7),(-98.6,51.7),(-98,50.4),(-98.6,50.4)]
nipigon = [(-89,50),(-88,50),(-88,49.2),(-89,49.2)]
mistassini = [(-74,51.3),(-73,51.3),(-73,50.5)]
baikal = [(103.8,51.6),(105,51.6),(110,55.7),(109,55.7)]
balkhash = [(74,46.5),(76,46.8),(79,46),(79,45.7),(76,46)]
aral = [(58.5,46.5),(61,46.5),(60,44.8),(58.5,45)]
lake_victoria = [(31.7,0),(34,0.3),(34,-2.5),(32,-2.5)]
tanganyika = [(29.2,-3.5),(29.7,-3.5),(31,-8),(30.4,-8)]
lake_malawi = [(34,-10),(34.6,-10),(35,-14),(34.3,-13)]
ladoga = [(30.5,60),(32.5,60.5),(32,61.7),(30.3,61)]
onega = [(34.5,61),(36,61),(36,62.5),(34.5,62.5)]
vanern = [(12.4,58.5),(14,58.5),(14,59.3),(12.8,59.2)]
issyk = [(76,42.3),(78,42.5),(78,42.2)]
titicaca = [(-70,-15.4),(-69,-16),(-69.3,-16.5),(-70,-16)]
volga = [(33,57),(38,57.5),(44,56.5),(49,55.5),(49,53),(46,50),(44.5,48.5),(48,46)]
parana = [(-51,-20),(-53,-22),(-54.5,-25)]

# ---- who is in which rating
no_data = [greenland, russia, sakhalin, novaya, franz_josef, severnaya, siberian_isl, ukraine, uzbekistan, turkmenistan, tajikistan, afghanistan, georgia, azerbaijan, saudi, uae, w_sahara, guinea_bissau, liberia, eq_guinea, nicaragua, belize, cuba, guyana, suriname, guiana, mongolia, north_korea, bhutan, laos, png, new_britain, timor]
rating_1 = [iceland, ireland, norway, sweden, finland, denmark, zealand, germany, austria, italy, sicily, sardinia, slovenia, uruguay]
rating_2 = [france, corsica, spain, portugal, netherlands, switzerland, estonia, latvia, lithuania, czechia, slovakia, moldova, croatia, montenegro, armenia, israel, ghana, togo, congo, namibia, costa_rica, jamaica, dominican, taiwan, honshu, hokkaido, kyushu, shikoku, nz_north, nz_south]
rating_3 = [canada, baffin, ellesmere, axel_heiberg, devon, victoria_isl, banks, melville, prince_patrick, bathurst, prince_of_wales, somerset, king_william, southampton, newfoundland, vancouver, hawaii, mexico, panama, bolivia, argentina, tierra, uk, n_ireland, belgium, poland, bulgaria, bosnia, albania, macedonia, tunisia, morocco, sierra_leone, burkina, gabon, south_africa, lesotho, mozambique, madagascar, nepal, australia, tasmania]
rating_4 = [alaska, aleutians, usa, el_salvador, puerto_rico, venezuela, peru, paraguay, chile, hungary, romania, serbia, greece, crete, cyprus, kyrgyzstan, oman, mauritania, mali, senegal, guinea, ivory_coast, benin, nigeria, niger, chad, ethiopia, kenya, uganda, drc, cameroon, angola, zambia, malawi, tanzania, botswana, sri_lanka, vietnam, fiji]
rating_5 = [guatemala, honduras, haiti, colombia, ecuador, brazil, belarus, kazakhstan, pakistan, iran, iraq, jordan, lebanon, turkey, thrace, egypt, algeria, sudan, eritrea, zimbabwe, eswatini, india, bangladesh, thailand, cambodia, malaya, sabah, kalimantan, sumatra, java, sulawesi, sunda, halmahera, ceram, papua, luzon, mindanao, visayas, palawan, south_korea, china, hainan]
rating_5p = [syria, yemen, libya, south_sudan, car, somalia, burundi, myanmar]
lakes = [superior, michigan, huron, erie, ontario, great_bear, great_slave, athabasca, reindeer, dubawnt, winnipeg, manitoba, nipigon, mistassini, baikal, balkhash, aral, lake_victoria, tanganyika, lake_malawi, ladoga, onega, vanern, issyk, titicaca]
rivers = [volga, parana]

# ---- texts
title_text = "2022 Global Rights Index"
headline = "Ten worst countries in the world for working people."
intro_lines = ["The 2022 ITUC Global Rights Index depicts the world’s worst",
               "countries for workers by rating 148 countries on a scale from 1-5+",
               "based on the degree of respect for workers’ rights, with 1 being",
               "the best rating and 5+ the worst rating."]
method_lines = ["Violations are recorded each year from April to March. Each",
                "country is analysed against a list of 97 indicators derived from",
                "ILO conventions and jurisprudence. The Index represents",
                "violations of workers’ rights in law and practice."]
card_names = ["Bangladesh", "Belarus", "Brazil", "Colombia", "Egypt", "NEW – Eswatini", "NEW – Guatemala", "Myanmar", "The Philippines", "Turkey"]
card_icons = ["fist", "fist", "skull", "skull", "fist", "police", "police", "fist", "police", "fist"]
card_items = [
    [["Regressive laws"], ["Obstacles to union", "formation"], ["Police violence"]],
    [["Repressive criminal laws"], ["Mass arrests of trade", "union leaders"], ["Forced dissolution of", "unions"]],
    [["Anti-union", "discriminatory", "measures"], ["Violation of collective", "agreements"]],
    [["Murders and impunity"], ["Arbitrary arrests of", "trade unionists"], ["Union-busting and", "dismissals"]],
    [["Repressive laws"], ["Prosecution of strikers"], ["Union-busting and", "dismissals"]],
    [["Severe violation of", "freedom of assembly"], ["Police violence"]],
    [["Violence against trade", "unionists"], ["Climate of fear and", "impunity"], ["Anti-union dismissals"]],
    [["Brutal repression of", "strikes and protests"], ["Arbitrary arrests"], ["Killings"]],
    [["Violence and murders"], ["Arrests during strikes"], ["State repression"]],
    [["Repression of strikes"], ["Arrests of trade", "unionists"], ["Systematic union-", "busting"]],
]
legend_keys = ["5+", "5", "4", "3", "2", "1", ""]
legend_labels = ["No guarantee of rights<br>due to the breakdown of the rule of law", "No guarantee of rights", "Systematic violations of rights", "Regular violations of rights", "Repeated violations of rights", "Sporadic violations of rights", "No data"]
legend_colors = [C5P, C5, C4, C3, C2, C1, CND]
region_names = ["EUROPE", "ASIA-PACIFIC", "AMERICAS", "AFRICA", "MIDDLE EAST<br>AND<br>NORTH AFRICA"]
region_scores = ["2.49", "4.22", "3.52", "3.76", "4.53"]
region_colors = ["#FDBB00", "#E7350F", "#EF7300", "#EF7300", "#E7350F"]
region_text = ["#FBBA00", "#EF4B32", "#F47B20", "#F47B20", "#EF4B32"]

# ---- projection of the printed map, worked out from known coast points
LATS = [0, 10, 20, 30, 40, 50, 60, 70, 80, 90]
LON_SCALE = [4.87, 4.87, 4.86, 4.80, 4.70, 4.55, 4.28, 3.87, 3.30, 2.60]
LAT_PIX = [0, 50, 101, 152, 209, 272, 345, 420, 540, 680]


def project(pts):
    lon = np.array([p[0] for p in pts], dtype=float)
    lat = np.array([p[1] for p in pts], dtype=float)
    a = np.abs(lat)
    x = 1647 + lon * np.interp(a, LATS, LON_SCALE)
    bend = 1 + (0.04 + 0.05 * a / 60) * (lon / 100) ** 2
    y = 834 - np.sign(lat) * np.interp(a, LATS, LAT_PIX) * bend
    return x, y


def map_trace(polys, color, border="white", width=1.1):
    xs, ys = [], []
    for p in polys:
        x, y = project(p)
        xs += list(x) + [x[0], None]
        ys += list(y) + [y[0], None]
    return go.Scatter(x=xs, y=ys, mode="lines", fill="toself", fillcolor=color,
                      line=dict(color=border, width=width), hoverinfo="skip", showlegend=False)


fig = go.Figure()
for polys, col in [(no_data, CND), (rating_4, C4), (rating_3, C3), (rating_2, C2), (rating_1, C1), (rating_5, C5), (rating_5p, C5P)]:
    fig.add_trace(map_trace(polys, col))
fig.add_trace(map_trace(lakes, LAKE, border=LAKE, width=0.5))
for r in rivers:
    rx, ry = project(r)
    fig.add_trace(go.Scatter(x=rx, y=ry, mode="lines", line=dict(color=LAKE, width=1.3), hoverinfo="skip", showlegend=False))

shapes = []
notes = []


def text(x, y, s, size, color, anchor="left", family="Lato", weight=None, va="middle"):
    f = dict(family=family, size=size, color=color)
    if weight:
        f["weight"] = weight
    notes.append(dict(x=x, y=y, xref="x", yref="y", text=s, showarrow=False, xanchor=anchor, yanchor=va, font=f, align=anchor if anchor != "middle" else "center"))


def panel(x0, y0, x1, y1, r=7, color="#F5F5F5"):
    d = f"M{x0+r},{y0} L{x1-r},{y0} Q{x1},{y0} {x1},{y0+r} L{x1},{y1-r} Q{x1},{y1} {x1-r},{y1} L{x0+r},{y1} Q{x0},{y1} {x0},{y1-r} L{x0},{y0+r} Q{x0},{y0} {x0+r},{y0} Z"
    shapes.append(dict(type="path", path=d, fillcolor=color, line_width=0, layer="below"))


def poly(cx, cy, pts, color=RED):
    d = "M" + " L".join(f"{cx+a},{cy+b}" for a, b in pts) + " Z"
    shapes.append(dict(type="path", path=d, fillcolor=color, line_width=0))


def seg(cx, cy, a, b, color="white", w=1.2):
    shapes.append(dict(type="line", x0=cx+a[0], y0=cy+a[1], x1=cx+b[0], y1=cy+b[1], line=dict(color=color, width=w)))


def blob(cx, cy, rx, ry, color=RED):
    shapes.append(dict(type="circle", x0=cx-rx, x1=cx+rx, y0=cy-ry, y1=cy+ry, fillcolor=color, line_width=0))


def fist(cx, cy):
    poly(cx, cy, [(-33, -11), (-6, -11), (11, -19), (26, -13), (33, -3), (18, 18), (9, 11), (-6, 10), (-33, 10)])
    seg(cx, cy, (-33, 1), (-6, 3))
    seg(cx, cy, (-6, 3), (12, -6))
    for a, b in [((12, 12), (27, -9)), ((5, 6), (20, -14)), ((17, -2), (30, 5))]:
        seg(cx, cy, a, b)


def skull(cx, cy):
    blob(cx, cy - 8, 16, 15)
    poly(cx, cy, [(-8, 2), (8, 2), (6, 11), (-6, 11)])
    blob(cx - 6, cy - 7, 4, 4, "white")
    blob(cx + 6, cy - 7, 4, 4, "white")
    seg(cx, cy, (-21, 3), (21, 21), RED, 4.5)
    seg(cx, cy, (21, 3), (-21, 21), RED, 4.5)
    blob(cx - 21, cy + 4, 3, 3)
    blob(cx + 21, cy + 4, 3, 3)
    blob(cx - 21, cy + 21, 3, 3)
    blob(cx + 21, cy + 21, 3, 3)


def police(cx, cy):
    blob(cx + 9, cy - 22, 4.5, 4.5)
    poly(cx, cy, [(4, -22), (15, -25), (14, -21), (5, -19)])
    poly(cx, cy, [(3, -15), (17, -15), (24, -2), (19, 0), (16, -7), (15, 20), (10, 20), (9, 5), (6, 20), (1, 20), (6, -4), (-2, -6)])
    poly(cx, cy, [(-24, 21), (28, 21), (28, 25), (-24, 25)])
    seg(cx, cy, (-15, -8), (1, -14), RED, 2.2)
    blob(cx - 20, cy + 12, 4.5, 4.5)
    poly(cx, cy, [(-15, 6), (-2, 11), (6, 21), (-2, 21), (-6, 15), (-12, 19), (-26, 20), (-15, 14)])
    for a, b in [((-20, -1), (-12, 1)), ((-17, -4), (-15, 4))]:
        seg(cx, cy, a, b, RED, 1.6)


ICONS = {"fist": fist, "skull": skull, "police": police}

# ---- headers and body text
title_cols = ["#A3092F", "#A60B2E", "#A90D2D", "#AC0F2C", "#AF112C", "#B3142B", "#B7172B", "#BB1A2A", "#BF1D2A", "#C32029", "#C72429", "#CB2928", "#CF2E28", "#D23328", "#D53828", "#D83D27", "#DB4227", "#DE4727", "#E04B27", "#E24F27", "#E45327", "#E65727", "#E75A27", "#E95D27"]
title_html = "".join(f'<span style="color:{c}">{ch}</span>' for c, ch in zip(title_cols, title_text))
text(87, 110, title_html, 90.7, "#C32029", family="Lato Light, Lato", weight=300)
text(1194, 122, headline, 54.8, "#D0161B", family="Lato", weight=900)
for i, line in enumerate(intro_lines):
    text(84.5, 218 + 30.7 * i, line, 23.9, "#555555", weight=400)
for i, line in enumerate(method_lines):
    text(84.5, 370 + 30.7 * i, line, 23.9, "#555555", weight=400)

# ---- ten worst countries cards
col_x = [85, 443]
row_top = [546, 710, 874, 1037, 1201]
row_bot = [699, 862, 1026, 1190, 1354]
for i, name in enumerate(card_names):
    c, r = i % 2, i // 2
    x0, y0, y1 = col_x[c], row_top[r], row_bot[r]
    panel(x0, y0, x0 + 348, y1)
    cy = (y0 + y1) / 2 + 1
    cx = x0 + 68
    shapes.append(dict(type="circle", x0=cx-46, x1=cx+46, y0=cy-46, y1=cy+46, line=dict(color=RED, width=11.5), fillcolor="rgba(0,0,0,0)"))
    ICONS[card_icons[i]](cx, cy)
    n = sum(len(item) for item in card_items[i])
    y = cy + 1.5 - (28 + (n - 1) * 20.6) / 2
    text(x0 + 136, y, f"<b>{name}</b>", 20, RED)
    y += 28
    for item in card_items[i]:
        for j, line in enumerate(item):
            if j == 0:
                text(x0 + 138, y, "•", 13, RED)
            text(x0 + 150, y, line, 17.7, "#E0474C")
            y += 20.6

# ---- legend
panel(820, 1092, 1280, 1353, r=10)
bar_top = [1106, 1162, 1193, 1225, 1256, 1287, 1318]
bar_bot = [1155, 1187, 1218, 1249, 1280, 1311, 1343]
for i, key in enumerate(legend_keys):
    shapes.append(dict(type="rect", x0=821, x1=825, y0=bar_top[i], y1=bar_bot[i], fillcolor=legend_colors[i], line_width=0))
    mid = (bar_top[i] + bar_bot[i]) / 2 - 1.5
    if i == 0:
        text(831, 1116.5, f"<b>{key}</b>", 21, "#222222")
        for yy, part in zip([1116.5, 1141.5], legend_labels[0].split("<br>")):
            text(870, yy, part, 21.1, "#444444")
    else:
        text(831, mid, f"<b>{key}</b>", 21, "#222222")
        text(870, mid, legend_labels[i], 21.1, "#444444")

# ---- region rings
ring_x = [1697, 2407, 1043, 1630, 2006]
ring_y = [281, 616, 813, 955, 884]
label_y = [356, 689, 887, 1029, 980]
for name, score, col, tcol, cx, cy, ly in zip(region_names, region_scores, region_colors, region_text, ring_x, ring_y, label_y):
    shapes.append(dict(type="circle", x0=cx-50, x1=cx+50, y0=cy-50, y1=cy+50, line=dict(color=col, width=14), fillcolor="white"))
    text(cx, cy, score, 30, tcol, anchor="center", family="Lato Light, Lato", weight=300)
    text(cx, ly, name, 18, tcol, anchor="center", family="Lato Light, Lato", weight=300)

# ---- footer
text(1389, 1338, "www.globalrightsindex.org", 42.6, "#111111", weight=900)
text(1971, 1338, "#rightsindex", 42.7, "#D0161B", weight=900)
blob(2389, 1246, 45, 45, "#F47321")
shapes.append(dict(type="path", path="M2358,1293 Q2415,1312 2472,1293 L2472,1303 Q2415,1340 2358,1303 Z", fillcolor="#A6042F", line_width=0))
text(2416, 1345, "ITUC CSI IGB", 20, "#A6042F", anchor="center", family="Lato", weight=700)

# the page keeps an 8px body margin, so the axes start at 8 to stay in page pixels
fig.update_layout(
    width=2544, height=1423, margin=dict(l=0, r=0, t=0, b=0),
    paper_bgcolor="white", plot_bgcolor="white", showlegend=False,
    xaxis=dict(range=[8, 2552], visible=False, fixedrange=True),
    yaxis=dict(range=[1431, 8], visible=False, fixedrange=True),
    shapes=shapes, annotations=notes,
)
fig.write_html("out.html")
